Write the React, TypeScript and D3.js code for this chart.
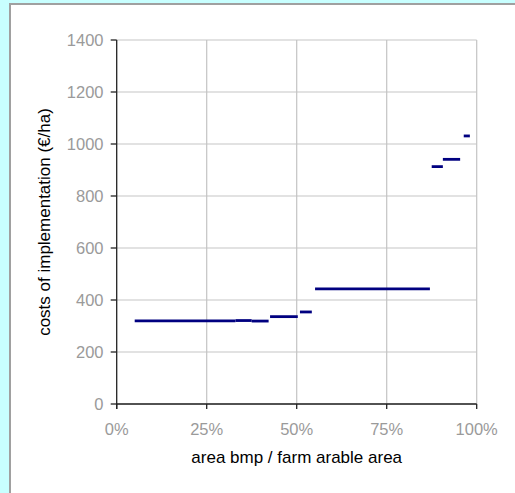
import React from "react";
import * as d3 from "d3";

// Cost steps: share of farm arable area covered (start/end, %) and cost level (€/ha)
const stepStart = [5, 33, 37.5, 42.6, 50.9, 55.1, 87.5, 90.6, 96.4];
const stepEnd = [33, 37.5, 42.2, 50.3, 54.2, 87.0, 90.6, 95.4, 98.1];
const stepCost = [320, 321, 319, 336, 354, 443, 913, 941, 1031];

const yTicks = [0, 200, 400, 600, 800, 1000, 1200, 1400];
const xTicks = [0, 25, 50, 75, 100];

const xTitle = "area bmp / farm arable area";
const yTitle = "costs of implementation (€/ha)";

const W = 515;
const H = 493;
const plot = { left: 116.7, right: 476.7, top: 40, bottom: 404 };

export default function App() {
  const x = d3.scaleLinear().domain([0, 100]).range([plot.left, plot.right]);
  const y = d3.scaleLinear().domain([0, 1400]).range([plot.bottom, plot.top]);
  const steps = stepStart.map((s, i) => ({ s, e: stepEnd[i], c: stepCost[i] }));
  const font = "'Liberation Sans', Arial, sans-serif";

  return (
    <svg
      width={W}
      height={H}
      style={{ position: "absolute", left: 0, top: 0, display: "block" }}
      fontFamily={font}
    >
      <rect x={0} y={0} width={W} height={H} fill="#c8ffff" />
      <rect x={10} y={4} width={W + 20} height={H + 20} fill="#ffffff" stroke="#a0a0a0" strokeWidth={2} />

      {/* horizontal gridlines */}
      {yTicks.map((t) => (
        <line key={"hg" + t} x1={plot.left} x2={plot.right} y1={y(t)} y2={y(t)} stroke="#d9d9d9" strokeWidth={1.5} />
      ))}
      {/* vertical gridlines */}
      {xTicks.filter((t) => t > 0).map((t) => (
        <line key={"vg" + t} x1={x(t)} x2={x(t)} y1={plot.top} y2={plot.bottom} stroke="#c4c4c4" strokeWidth={1.2} />
      ))}

      {/* axes */}
      <line x1={plot.left} x2={plot.left} y1={plot.top} y2={plot.bottom + 5} stroke="#222" strokeWidth={1.3} />
      <line x1={plot.left} x2={plot.right} y1={plot.bottom} y2={plot.bottom} stroke="#222" strokeWidth={1.3} />
      {yTicks.map((t) => (
        <line key={"yt" + t} x1={plot.left - 6} x2={plot.left} y1={y(t)} y2={y(t)} stroke="#222" strokeWidth={1.3} />
      ))}
      {xTicks.map((t) => (
        <line key={"xt" + t} x1={x(t)} x2={x(t)} y1={plot.bottom} y2={plot.bottom + 5} stroke="#222" strokeWidth={1.3} />
      ))}

      {/* tick labels */}
      {yTicks.map((t) => (
        <text key={"yl" + t} x={103.5} y={y(t)} dy="0.35em" textAnchor="end" fontSize={16.5} fill="#9a9a9a">
          {t}
        </text>
      ))}
      {xTicks.map((t) => (
        <text key={"xl" + t} x={x(t)} y={435} textAnchor="middle" fontSize={16.5} fill="#9a9a9a">
          {t + "%"}
        </text>
      ))}

      {/* cost steps */}
      {steps.map((d, i) => (
        <line key={"s" + i} x1={x(d.s)} x2={x(d.e)} y1={y(d.c)} y2={y(d.c)} stroke="#000080" strokeWidth={2.8} />
      ))}

      {/* axis titles */}
      <text x={(plot.left + plot.right) / 2} y={463} textAnchor="middle" fontSize={17} fill="#000">
        {xTitle}
      </text>
      <text
        transform={`translate(49.5, ${(plot.top + plot.bottom) / 2}) rotate(-90)`}
        textAnchor="middle"
        fontSize={17}
        fill="#000"
      >
        {yTitle}
      </text>
    </svg>
  );
}
